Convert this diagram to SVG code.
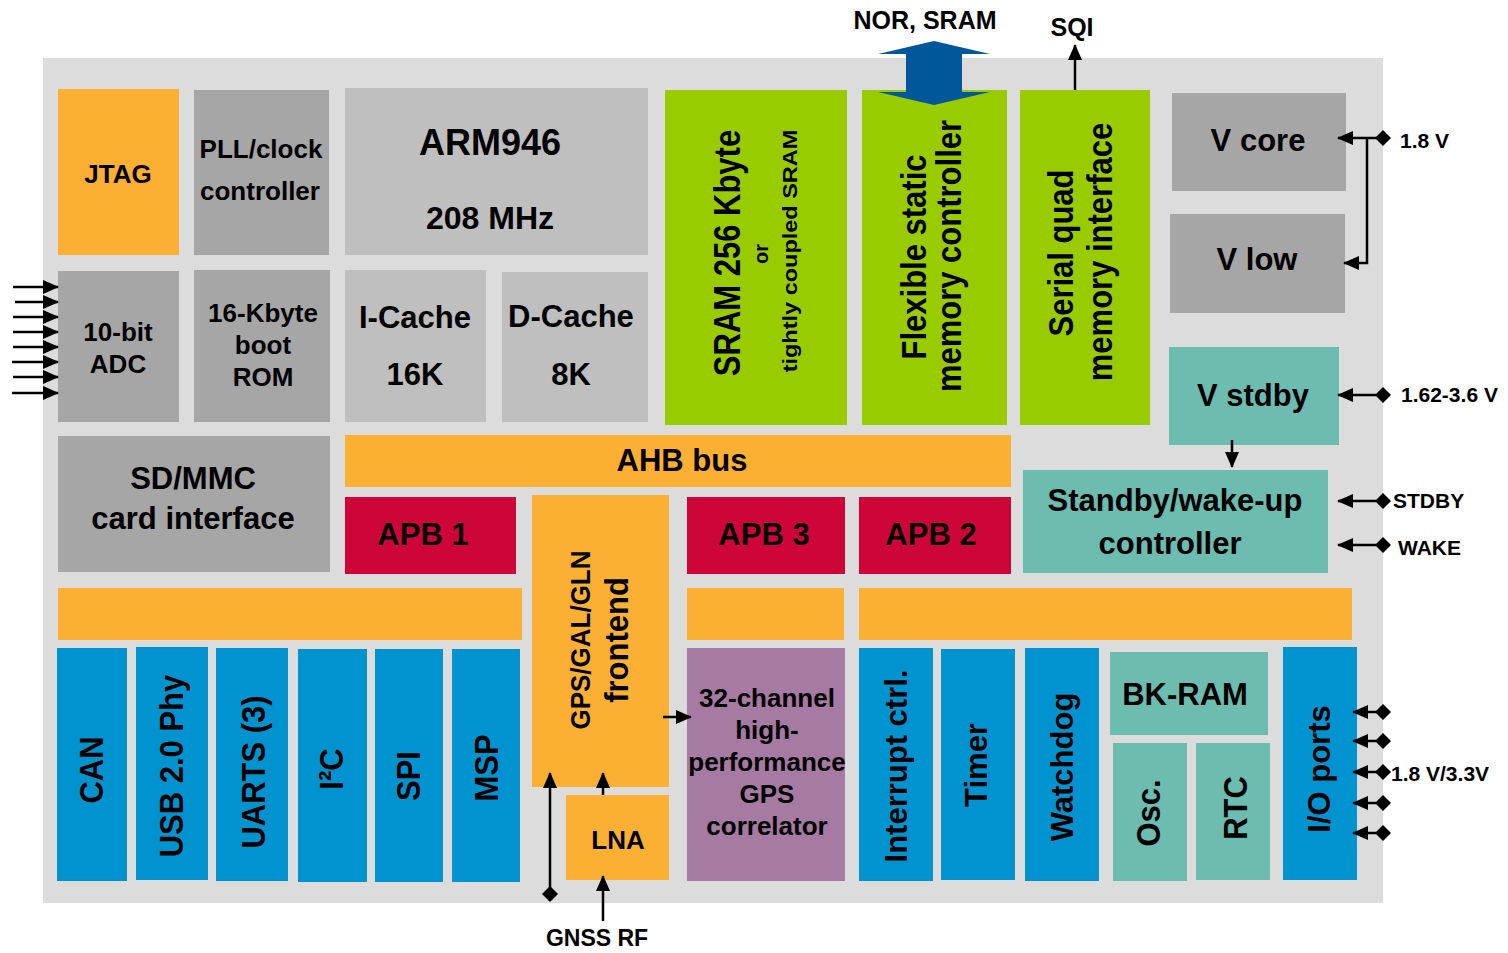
<svg xmlns="http://www.w3.org/2000/svg" width="1508" height="953" viewBox="0 0 1508 953">
<style>
text{font-family:"Liberation Sans",Arial,sans-serif;font-weight:bold;fill:#000;text-anchor:middle}
.t31{font-size:31px}.t26{font-size:26px}.t21{font-size:21px;text-anchor:start}
.org{fill:#FBB034}.gry{fill:#A6A6A6}.lgr{fill:#BFBFBF}.grn{fill:#99CC00}.tea{fill:#6CBCAF}.red{fill:#CE0538}.blu{fill:#0093CF}.pur{fill:#A67AA2}
.ln{stroke:#000;stroke-width:2.5;fill:none}
</style>
<defs>
<marker id="arr" markerWidth="16" markerHeight="14" refX="15" refY="7" orient="auto" markerUnits="userSpaceOnUse"><path d="M0,0 L16,7 L0,14 z" fill="#000"/></marker>
<marker id="dia" markerWidth="16" markerHeight="16" refX="8" refY="8" orient="auto" markerUnits="userSpaceOnUse"><path d="M0,8 L8,0 L16,8 L8,16 z" fill="#000"/></marker>
</defs>
<rect x="43" y="58" width="1340" height="845" fill="#DCDCDC"/>

<g id="jtag"><rect class="org" x="58" y="89" width="121" height="166"/><text class="t26" x="118" y="183">JTAG</text></g>
<g id="pll"><rect class="gry" x="194" y="90" width="135" height="165"/><text class="t26" x="261" y="158">PLL/clock</text><text class="t26" x="260" y="200">controller</text></g>
<g id="arm"><rect class="lgr" x="345" y="88" width="303" height="167"/><text x="490" y="155" style="font-size:36px">ARM946</text><text x="490" y="229" style="font-size:32px">208 MHz</text></g>
<g id="sram"><rect class="grn" x="665" y="90" width="182" height="335"/>
<text class="t31" transform="translate(740,253) rotate(-90) scale(1,1.2)">SRAM 256 Kbyte</text>
<text transform="translate(768,254) rotate(-90)" style="font-size:20px">or</text>
<text transform="translate(797,251) rotate(-90) scale(1,0.85)" style="font-size:23.5px">tightly coupled SRAM</text></g>
<g id="fsmc"><rect class="grn" x="862" y="90" width="145" height="335"/>
<text class="t31" transform="translate(926,257) rotate(-90) scale(1,1.12)">Flexible static</text>
<text class="t31" transform="translate(961,256) rotate(-90) scale(1,1.12)">memory controller</text></g>
<g id="sqi"><rect class="grn" x="1020" y="90" width="130" height="335"/>
<text class="t31" transform="translate(1073,253) rotate(-90) scale(1,1.12)">Serial quad</text>
<text class="t31" transform="translate(1112,252) rotate(-90) scale(1,1.12)">memory interface</text></g>
<g id="vcore"><rect class="gry" x="1172" y="93" width="174" height="98"/><text class="t31" x="1258" y="151">V core</text></g>
<g id="vlow"><rect class="gry" x="1170" y="214" width="175" height="99"/><text class="t31" x="1257" y="270">V low</text></g>
<g id="vstdby"><rect class="tea" x="1169" y="347" width="170" height="98"/><text class="t31" x="1253" y="406">V stdby</text></g>
<g id="stdbyctl"><rect class="tea" x="1023" y="470" width="305" height="103"/><text class="t31" x="1175" y="511">Standby/wake-up</text><text class="t31" x="1170" y="554">controller</text></g>

<g id="adc"><rect class="gry" x="58" y="271" width="121" height="151"/><text class="t26" x="118" y="341">10-bit</text><text class="t26" x="118" y="373">ADC</text></g>
<g id="rom"><rect class="gry" x="194" y="270" width="136" height="152"/><text class="t26" x="263" y="322">16-Kbyte</text><text class="t26" x="263" y="354">boot</text><text class="t26" x="263" y="386">ROM</text></g>
<g id="icache"><rect class="lgr" x="345" y="270" width="141" height="152"/><text class="t31" x="415" y="328">I-Cache</text><text class="t31" x="415" y="385">16K</text></g>
<g id="dcache"><rect class="lgr" x="502" y="272" width="146" height="150"/><text class="t31" x="571" y="327">D-Cache</text><text class="t31" x="571" y="385">8K</text></g>

<g id="sdmmc"><rect class="gry" x="58" y="436" width="272" height="136"/><text class="t31" x="193" y="489">SD/MMC</text><text class="t31" x="193" y="529">card interface</text></g>
<g id="ahb"><rect class="org" x="345" y="435" width="666" height="52"/><text class="t31" x="682" y="471">AHB bus</text></g>
<g id="apb1"><rect class="red" x="345" y="497" width="171" height="77"/><text class="t31" x="423" y="545">APB 1</text></g>
<g id="gpsfe"><rect class="org" x="532" y="495" width="137" height="292"/>
<text class="t26" transform="translate(590,640) rotate(-90) scale(1,1.05)">GPS/GAL/GLN</text>
<text class="t31" transform="translate(628,640) rotate(-90) scale(1,1.1)">frontend</text></g>
<g id="apb3"><rect class="red" x="687" y="497" width="158" height="77"/><text class="t31" x="764" y="545">APB 3</text></g>
<g id="apb2"><rect class="red" x="859" y="497" width="152" height="77"/><text class="t31" x="931" y="545">APB 2</text></g>

<g id="bus1"><rect class="org" x="58" y="588" width="464" height="52"/></g>
<g id="bus3"><rect class="org" x="687" y="588" width="157" height="52"/></g>
<g id="bus2"><rect class="org" x="859" y="588" width="493" height="52"/></g>

<g id="can"><rect class="blu" x="57" y="648" width="70" height="233"/><text class="t31" transform="translate(103,770) rotate(-90) scale(1,1.08)">CAN</text></g>
<g id="usb"><rect class="blu" x="136" y="647" width="72" height="233"/><text class="t31" transform="translate(183,766) rotate(-90) scale(1,1.08)">USB 2.0 Phy</text></g>
<g id="uarts"><rect class="blu" x="216" y="648" width="72" height="233"/><text class="t31" transform="translate(265,772) rotate(-90) scale(1,1.08)">UARTS (3)</text></g>
<g id="i2c"><rect class="blu" x="298" y="649" width="69" height="233"/><text class="t31" transform="translate(343,769) rotate(-90) scale(1,1.08)">I²C</text></g>
<g id="spi"><rect class="blu" x="375" y="649" width="68" height="233"/><text class="t31" transform="translate(420,776) rotate(-90) scale(1,1.08)">SPI</text></g>
<g id="msp"><rect class="blu" x="452" y="649" width="68" height="233"/><text class="t31" transform="translate(498,768) rotate(-90) scale(1,1.08)">MSP</text></g>
<g id="lna"><rect class="org" x="566" y="795" width="103" height="85"/><text class="t26" x="618" y="849">LNA</text></g>
<g id="corr"><rect class="pur" x="687" y="648" width="158" height="233"/>
<text class="t26" x="767" y="707">32-channel</text><text class="t26" x="767" y="739">high-</text><text class="t26" x="767" y="771">performance</text><text class="t26" x="767" y="803">GPS</text><text class="t26" x="767" y="835">correlator</text></g>
<g id="intc"><rect class="blu" x="859" y="648" width="74" height="233"/><text class="t31" transform="translate(907,766) rotate(-90)">Interrupt ctrl.</text></g>
<g id="timer"><rect class="blu" x="941" y="649" width="74" height="231"/><text class="t31" transform="translate(987,765) rotate(-90)">Timer</text></g>
<g id="wdg"><rect class="blu" x="1025" y="648" width="74" height="233"/><text class="t31" transform="translate(1073,767) rotate(-90)">Watchdog</text></g>
<g id="bkram"><rect class="tea" x="1110" y="652" width="158" height="83"/><text class="t31" x="1185" y="705">BK-RAM</text></g>
<g id="osc"><rect class="tea" x="1113" y="743" width="74" height="138"/><text class="t31" transform="translate(1160,813) rotate(-90) scale(1,1.1)">Osc.</text></g>
<g id="rtc"><rect class="tea" x="1196" y="743" width="74" height="137"/><text class="t31" transform="translate(1247,808) rotate(-90) scale(1,1.1)">RTC</text></g>
<g id="io"><rect class="blu" x="1283" y="647" width="74" height="233"/><text class="t31" transform="translate(1330,769) rotate(-90)">I/O ports</text></g>

<g id="connectors">
<polygon points="934,41 990,54 962,54 962,92 990,92 934,105 878,92 906,92 906,54 878,54" fill="#00589A"/>
<path class="ln" d="M1075,90 L1075,45" marker-end="url(#arr)"/>
<path class="ln" d="M13,287 L58,287" marker-end="url(#arr)"/>
<path class="ln" d="M15,302 L58,302" marker-end="url(#arr)"/>
<path class="ln" d="M13,317 L58,317" marker-end="url(#arr)"/>
<path class="ln" d="M13,332 L58,332" marker-end="url(#arr)"/>
<path class="ln" d="M13,347 L58,347" marker-end="url(#arr)"/>
<path class="ln" d="M12,362 L58,362" marker-end="url(#arr)"/>
<path class="ln" d="M13,377 L58,377" marker-end="url(#arr)"/>
<path class="ln" d="M12,393 L58,393" marker-end="url(#arr)"/>
<path class="ln" d="M1383,138 L1338,138" marker-start="url(#dia)" marker-end="url(#arr)"/>
<path class="ln" d="M1367,138 V263 H1344" marker-end="url(#arr)"/>
<path class="ln" d="M1383,395 L1338,395" marker-start="url(#dia)" marker-end="url(#arr)"/>
<path class="ln" d="M1383,501 L1338,501" marker-start="url(#dia)" marker-end="url(#arr)"/>
<path class="ln" d="M1383,545 L1338,545" marker-start="url(#dia)" marker-end="url(#arr)"/>
<path class="ln" d="M1232,440 L1232,467" marker-end="url(#arr)"/>
<path class="ln" d="M1383,712 L1353,712" marker-start="url(#dia)" marker-end="url(#arr)"/>
<path class="ln" d="M1383,741 L1353,741" marker-start="url(#dia)" marker-end="url(#arr)"/>
<path class="ln" d="M1383,772 L1353,772" marker-start="url(#dia)" marker-end="url(#arr)"/>
<path class="ln" d="M1383,803 L1353,803" marker-start="url(#dia)" marker-end="url(#arr)"/>
<path class="ln" d="M1383,833 L1353,833" marker-start="url(#dia)" marker-end="url(#arr)"/>
<path class="ln" d="M663,717 L691,717" marker-end="url(#arr)"/>
<path class="ln" d="M603,795 L603,773" marker-end="url(#arr)"/>
<path class="ln" d="M603,921 L603,876" marker-end="url(#arr)"/>
<path class="ln" d="M550,894 L550,773" marker-start="url(#dia)" marker-end="url(#arr)"/>
</g>

<g id="labels">
<text x="925" y="29" style="font-size:25px">NOR, SRAM</text>
<text x="1072" y="36" style="font-size:25px">SQI</text>
<text x="597" y="946" style="font-size:23px">GNSS RF</text>
<text class="t21" x="1400" y="148">1.8 V</text>
<text class="t21" x="1401" y="402">1.62-3.6 V</text>
<text class="t21" x="1393" y="508">STDBY</text>
<text class="t21" x="1398" y="555">WAKE</text>
<text class="t21" x="1391" y="781">1.8 V/3.3V</text>
</g>
</svg>
